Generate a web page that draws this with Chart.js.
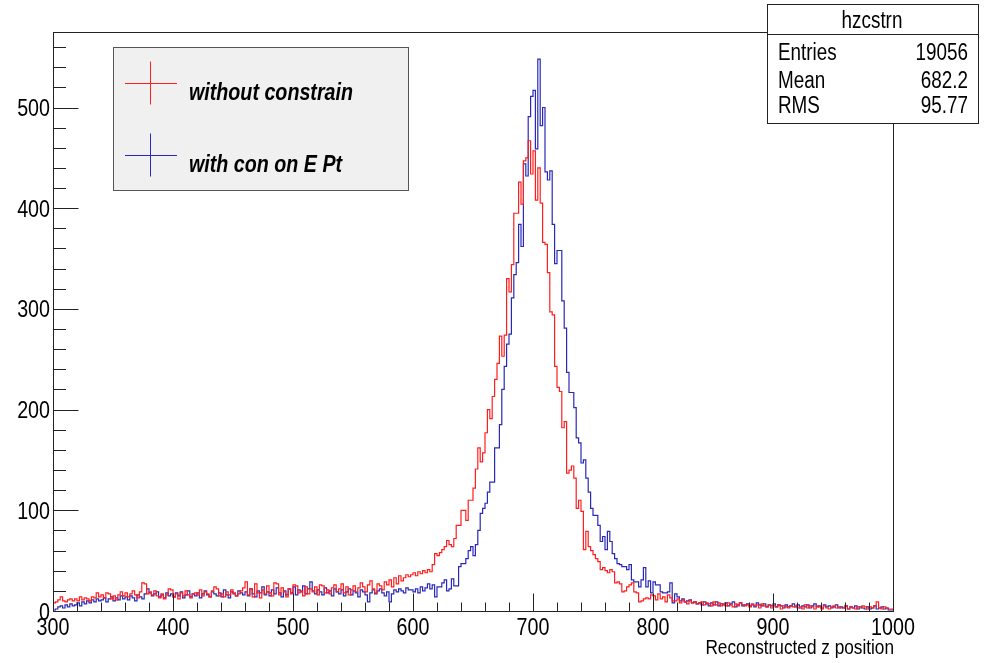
<!DOCTYPE html>
<html>
<head>
<meta charset="utf-8">
<script src="https://cdn.jsdelivr.net/npm/chart.js@4/dist/chart.umd.min.js"></script>
<style>
  html, body { margin: 0; padding: 0; background: #ffffff; }
  #wrap { width: 990px; height: 663px; }
</style>
</head>
<body>
<div id="wrap"><canvas id="c" width="990" height="663"></canvas></div>
<script>
// Histogram binning: 350 bins of width 2 between 300 and 1000
const xMin = 300;
const xMax = 1000;
const binWidth = 2;

// Bin contents, "without constrain" (one row = 10 bins = 20 units)
const withoutConstrain = [
  6, 8, 9, 11, 14, 10, 9, 11, 12, 10,
  12, 10, 14, 11, 13, 12, 10, 14, 13, 18,
  14, 16, 13, 18, 17, 12, 15, 11, 16, 19,
  15, 18, 14, 17, 20, 16, 13, 19, 28, 27,
  17, 19, 16, 20, 15, 13, 17, 12, 16, 22,
  21, 14, 17, 12, 18, 15, 20, 16, 13, 17,
  18, 16, 21, 15, 19, 17, 14, 20, 24, 22,
  15, 17, 14, 19, 16, 21, 18, 15, 17, 20,
  23, 29, 16, 22, 14, 27, 18, 13, 21, 17,
  25, 18, 15, 28, 27, 16, 23, 19, 14, 22,
  17, 26, 25, 18, 20, 15, 24, 17, 22, 19,
  24, 16, 26, 25, 18, 21, 17, 23, 26, 19,
  22, 27, 18, 24, 16, 21, 25, 19, 23, 28,
  24, 19, 26, 30, 22, 18, 27, 25, 21, 29,
  26, 31, 24, 33, 27, 35, 30, 33, 36, 34,
  36, 38, 35, 39, 37, 40, 38, 41, 39, 46,
  57, 55, 58, 61, 64, 70, 66, 64, 72, 85,
  85, 100, 100, 90, 110, 110, 122, 141, 162, 148,
  157, 177, 200, 191, 213, 230, 246, 273, 253, 274,
  330, 317, 344, 395, 395, 426, 404, 447, 450, 467,
  434, 457, 408, 440, 405, 366, 364, 336, 297, 294,
  243, 222, 218, 182, 188, 137, 140, 144, 132, 102,
  110, 99, 61, 79, 64, 60, 56, 52, 49, 41,
  43, 40, 38, 41, 39, 28, 29, 27, 19, 20,
  24, 26, 28, 19, 18, 9, 10, 12, 13, 12,
  16, 15, 11, 17, 12, 14, 9, 16, 13, 10,
  10, 12, 8, 11, 9, 7, 10, 8, 9, 7,
  8, 9, 6, 8, 7, 5, 9, 6, 8, 5,
  7, 5, 8, 6, 4, 7, 5, 8, 6, 5,
  6, 4, 7, 5, 6, 3, 7, 5, 4, 6,
  3, 5, 4, 6, 2, 5, 4, 3, 5, 4,
  5, 3, 4, 2, 6, 3, 5, 4, 2, 5,
  4, 2, 5, 3, 2, 4, 5, 3, 4, 3,
  3, 5, 2, 4, 3, 2, 4, 3, 5, 4,
  2, 4, 3, 5, 9, 3, 2, 4, 3, 2
];

// Bin contents, "with con on E Pt"
const withConEPt = [
  3, 1, 2, 4, 5, 3, 6, 4, 7, 5,
  6, 8, 5, 9, 7, 10, 8, 11, 9, 12,
  10, 11, 13, 9, 12, 14, 10, 13, 11, 15,
  12, 14, 11, 15, 13, 10, 16, 14, 12, 17,
  22, 18, 15, 17, 19, 14, 16, 13, 18, 15,
  17, 14, 18, 15, 19, 13, 16, 20, 14, 17,
  15, 18, 13, 17, 20, 16, 14, 19, 17, 15,
  18, 14, 21, 16, 13, 19, 17, 15, 20, 18,
  16, 19, 15, 22, 17, 14, 20, 18, 24, 16,
  19, 15, 21, 17, 23, 18, 14, 20, 16, 22,
  18, 24, 16, 21, 19, 25, 17, 22, 29, 20,
  17, 21, 19, 16, 23, 18, 20, 15, 22, 19,
  17, 21, 15, 19, 22, 16, 20, 18, 14, 21,
  19, 16, 9, 18, 21, 17, 20, 22, 18, 15,
  19, 9, 17, 21, 19, 22, 20, 18, 23, 21,
  21, 19, 22, 18, 24, 20, 23, 27, 22, 26,
  14, 24, 24, 28, 31, 20, 22, 32, 25, 25,
  44, 47, 47, 52, 60, 64, 55, 66, 80, 97,
  102, 107, 118, 128, 128, 162, 162, 185, 220, 243,
  265, 275, 311, 334, 346, 384, 362, 444, 432, 491,
  511, 517, 459, 548, 482, 500, 436, 428, 437, 384,
  345, 358, 358, 308, 281, 237, 217, 217, 202, 172,
  167, 147, 150, 132, 118, 102, 95, 95, 85, 69,
  74, 61, 79, 69, 57, 52, 47, 46, 44, 44,
  41, 46, 31, 29, 29, 24, 31, 43, 24, 30,
  18, 29, 26, 26, 19, 18, 18, 19, 28, 8,
  17, 14, 10, 12, 9, 10, 11, 8, 9, 7,
  8, 6, 9, 7, 5, 8, 6, 9, 5, 7,
  6, 8, 5, 7, 9, 4, 6, 8, 5, 6,
  7, 5, 6, 4, 8, 6, 5, 7, 4, 6,
  5, 7, 4, 6, 5, 3, 6, 4, 5, 7,
  4, 6, 3, 5, 4, 6, 3, 5, 7, 4,
  5, 3, 6, 4, 5, 3, 4, 6, 3, 4,
  3, 5, 2, 4, 3, 5, 2, 4, 3, 2,
  4, 2, 3, 5, 2, 3, 4, 2, 3, 1
];

const seriesLabels = ['without constrain', 'with con on E Pt'];
const xTickValues = [300, 400, 500, 600, 700, 800, 900, 1000];
const yTickValues = [0, 100, 200, 300, 400, 500];
const yMax = 575;
const xAxisTitle = 'Reconstructed z position';
const statsTitle = 'hzcstrn';
const statsNames = ['Entries', 'Mean', 'RMS'];
const statsValues = ['19056', '682.2', '95.77'];

const RED = 'rgb(255,30,30)';
const BLUE = 'rgb(40,40,185)';
const FONT = '"Liberation Sans", Arial, Helvetica, sans-serif';
const NARROW = 0.82; // horizontal squeeze giving a Helvetica-Narrow look

// Turn bin contents into step-line points at each bin's lower edge
function histPoints(values) {
  const pts = values.map((v, i) => ({ x: xMin + i * binWidth, y: v }));
  pts.push({ x: xMax, y: values[values.length - 1] });
  return pts;
}

// Draw narrow text anchored at (x, baseline y)
function narrowText(ctx, text, x, y, align, font) {
  ctx.save();
  ctx.font = font;
  ctx.textAlign = align;
  ctx.textBaseline = 'alphabetic';
  ctx.translate(x, y);
  ctx.scale(NARROW, 1);
  ctx.fillText(text, 0, 0);
  ctx.restore();
}

// Frame, inward ticks, tick labels, legend, stats box and axis title in ROOT style
const rootDecor = {
  id: 'rootDecor',
  afterDatasetsDraw(chart) {
    const { ctx, chartArea: a, scales } = chart;
    const x = scales.x, y = scales.y;
    const L = Math.round(a.left) + 0.5, R = Math.round(a.right) + 0.5;
    const T = Math.round(a.top) + 0.5, B = Math.round(a.bottom) + 0.5;
    ctx.save();
    ctx.lineWidth = 1;
    ctx.strokeStyle = '#222';
    ctx.strokeRect(L, T, R - L, B - T);

    ctx.beginPath();
    for (let v = xMin; v <= xMax; v += 20) {
      const px = Math.round(x.getPixelForValue(v)) + 0.5;
      const len = (v % 100 === 0) ? 18 : 9;
      ctx.moveTo(px, B);
      ctx.lineTo(px, B - len);
    }
    for (let v = 0; v <= yMax; v += 20) {
      const py = Math.round(y.getPixelForValue(v)) + 0.5;
      const len = (v % 100 === 0) ? 25 : 12.5;
      ctx.moveTo(L, py);
      ctx.lineTo(L + len, py);
    }
    ctx.stroke();

    // tick labels from the scales' own ticks
    ctx.fillStyle = '#000';
    const tickFont = '24px ' + FONT;
    x.ticks.forEach(t => {
      narrowText(ctx, String(t.value), x.getPixelForValue(t.value), 635, 'center', tickFont);
    });
    y.ticks.forEach(t => {
      narrowText(ctx, String(t.value), 50, y.getPixelForValue(t.value) + 8.5, 'right', tickFont);
    });

    // legend
    const lx = 113.5, ly = 47.5, lw = 295, lh = 143;
    ctx.fillStyle = '#f0f0f0';
    ctx.fillRect(lx, ly, lw, lh);
    ctx.strokeStyle = '#555';
    ctx.strokeRect(lx, ly, lw, lh);
    const entries = [
      { label: seriesLabels[0], color: RED, cy: 83.5 },
      { label: seriesLabels[1], color: BLUE, cy: 155.5 }
    ];
    for (const e of entries) {
      ctx.strokeStyle = e.color;
      ctx.beginPath();
      ctx.moveTo(125, e.cy); ctx.lineTo(177, e.cy);
      ctx.moveTo(150.5, e.cy - 22); ctx.lineTo(150.5, e.cy + 21);
      ctx.stroke();
      ctx.fillStyle = '#000';
      narrowText(ctx, e.label, 189, e.cy + 16, 'left', 'italic bold 24px ' + FONT);
    }

    // statistics box
    const sx = 767.5, sy = 4.5, sw = 211, sh = 119;
    ctx.fillStyle = '#fff';
    ctx.fillRect(sx, sy, sw, sh);
    ctx.strokeStyle = '#222';
    ctx.strokeRect(sx, sy, sw, sh);
    ctx.beginPath();
    ctx.moveTo(sx, 34.5); ctx.lineTo(sx + sw, 34.5);
    ctx.stroke();
    ctx.fillStyle = '#000';
    const statFont = '23px ' + FONT;
    narrowText(ctx, statsTitle, 872, 28, 'center', statFont);
    const baselines = [59.5, 88, 113];
    statsNames.forEach((n, i) => {
      narrowText(ctx, n, 778, baselines[i], 'left', statFont);
      narrowText(ctx, statsValues[i], 968, baselines[i], 'right', statFont);
    });

    // x axis title
    narrowText(ctx, xAxisTitle, R + 0.5, 654, 'right', '21px ' + FONT);
    ctx.restore();
  }
};

new Chart(document.getElementById('c'), {
  type: 'line',
  data: {
    datasets: [
      { label: seriesLabels[0], data: histPoints(withoutConstrain), borderColor: RED, borderWidth: 1.2, stepped: 'after', pointRadius: 0, fill: false },
      { label: seriesLabels[1], data: histPoints(withConEPt), borderColor: BLUE, borderWidth: 1.2, stepped: 'after', pointRadius: 0, fill: false }
    ]
  },
  options: {
    responsive: false,
    animation: false,
    devicePixelRatio: 1,
    layout: { padding: { top: 32, right: 97, left: 0, bottom: 0 } },
    plugins: { legend: { display: false }, tooltip: { enabled: false } },
    scales: {
      x: {
        type: 'linear', min: xMin, max: xMax,
        afterBuildTicks: s => { s.ticks = xTickValues.map(v => ({ value: v })); },
        afterFit: s => { s.height = 52; },
        grid: { display: false, drawTicks: false },
        border: { display: false },
        ticks: { display: false }
      },
      y: {
        type: 'linear', min: 0, max: yMax,
        afterBuildTicks: s => { s.ticks = yTickValues.map(v => ({ value: v })); },
        afterFit: s => { s.width = 53; },
        grid: { display: false, drawTicks: false },
        border: { display: false },
        ticks: { display: false }
      }
    }
  },
  plugins: [rootDecor]
});
</script>
</body>
</html>
